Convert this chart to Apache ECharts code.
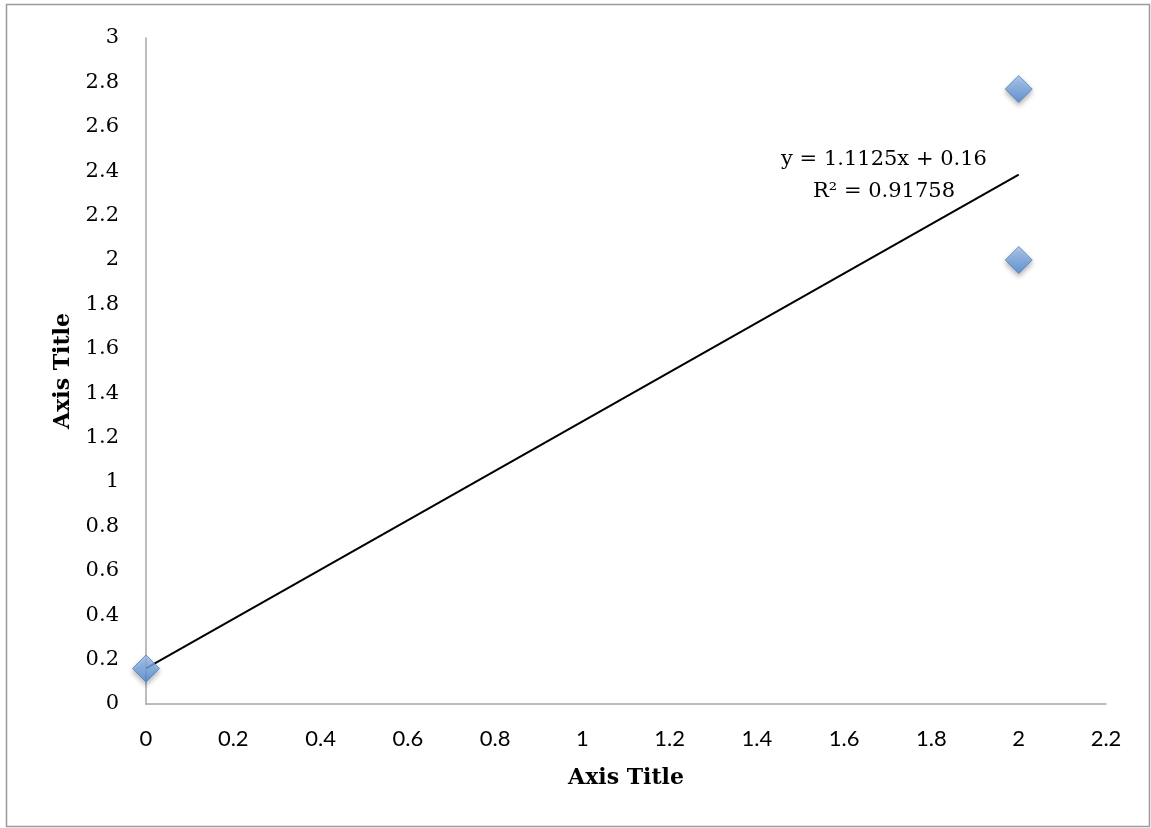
<!DOCTYPE html>
<html>
<head>
<meta charset="utf-8">
<style>
  html, body { margin: 0; padding: 0; background: #fff; }
  #chart { width: 1151px; height: 828px; }
</style>
<script src="https://cdn.jsdelivr.net/npm/echarts@6/dist/echarts.min.js"></script>
</head>
<body>
<div id="chart"></div>
<script>
// Measured points
const xValues = [0, 2, 2];
const yValues = [0.16, 2.77, 2.0];

// Linear trendline as reported in the equation label
const slope = 1.1125;
const intercept = 0.16;
const rSquared = '0.91758';
const trendX = [0, 2];

// Axis ranges
const xAxisRange = [0, 2.2];
const yAxisRange = [0, 3];
const tickStep = 0.2;

const axisTitle = 'Axis Title';

const points = xValues.map((x, i) => [x, yValues[i]]);
const trendPoints = trendX.map(x => [x, slope * x + intercept]);

const serif = '"DejaVu Serif", "Liberation Serif", serif';
const sans = 'Lato, "Liberation Sans", sans-serif';
const axisGray = '#a6a6a6';

const chart = echarts.init(document.getElementById('chart'), null, { renderer: 'canvas' });

chart.setOption({
  animation: false,
  backgroundColor: '#ffffff',
  grid: { left: 146, right: 45, top: 38, bottom: 124, containLabel: false },
  xAxis: {
    type: 'value',
    min: xAxisRange[0],
    max: xAxisRange[1],
    interval: tickStep,
    name: axisTitle,
    nameLocation: 'middle',
    nameGap: 63,
    nameTextStyle: { fontFamily: serif, fontWeight: 'bold', fontSize: 22, color: '#000' },
    axisLine: { show: true, lineStyle: { color: axisGray, width: 1.5 } },
    axisTick: { show: false },
    splitLine: { show: false },
    axisLabel: { fontFamily: sans, fontSize: 22, color: '#000', margin: 24 }
  },
  yAxis: {
    type: 'value',
    min: yAxisRange[0],
    max: yAxisRange[1],
    interval: tickStep,
    name: axisTitle,
    nameLocation: 'middle',
    nameRotate: 90,
    nameGap: 72,
    nameTextStyle: { fontFamily: serif, fontWeight: 'bold', fontSize: 22, color: '#000' },
    axisLine: { show: true, lineStyle: { color: axisGray, width: 1.5 } },
    axisTick: { show: false },
    splitLine: { show: false },
    axisLabel: { fontFamily: serif, fontSize: 21, color: '#000', margin: 27, padding: [3, 0, 0, 0] }
  },
  series: [
    {
      type: 'line',
      data: trendPoints,
      symbol: 'none',
      silent: true,
      z: 2,
      lineStyle: { color: '#000', width: 2 }
    },
    {
      type: 'scatter',
      data: points,
      symbol: 'diamond',
      symbolSize: [27, 27],
      z: 3,
      itemStyle: {
        color: new echarts.graphic.LinearGradient(0, 0, 0, 1, [
          { offset: 0, color: '#a4c6ef' },
          { offset: 1, color: '#4b88d8' }
        ]),
        borderColor: '#4f81bd',
        borderWidth: 1,
        shadowBlur: 5,
        shadowOffsetY: 3,
        shadowColor: 'rgba(0,0,0,0.35)'
      }
    }
  ],
  graphic: [
    {
      type: 'rect',
      left: 4,
      top: 2,
      shape: { width: 1143, height: 822 },
      style: { fill: 'none', stroke: '#9b9b9b', lineWidth: 1.5 },
      silent: true
    },
    {
      type: 'text',
      x: 884,
      y: 160,
      style: {
        text: 'y = ' + slope + 'x + ' + intercept,
        fontFamily: serif, fontSize: 21, fill: '#000',
        align: 'center', verticalAlign: 'middle'
      }
    },
    {
      type: 'text',
      x: 884,
      y: 192,
      style: {
        text: 'R² = ' + rSquared,
        fontFamily: serif, fontSize: 21, fill: '#000',
        align: 'center', verticalAlign: 'middle'
      }
    }
  ]
});
</script>
</body>
</html>
